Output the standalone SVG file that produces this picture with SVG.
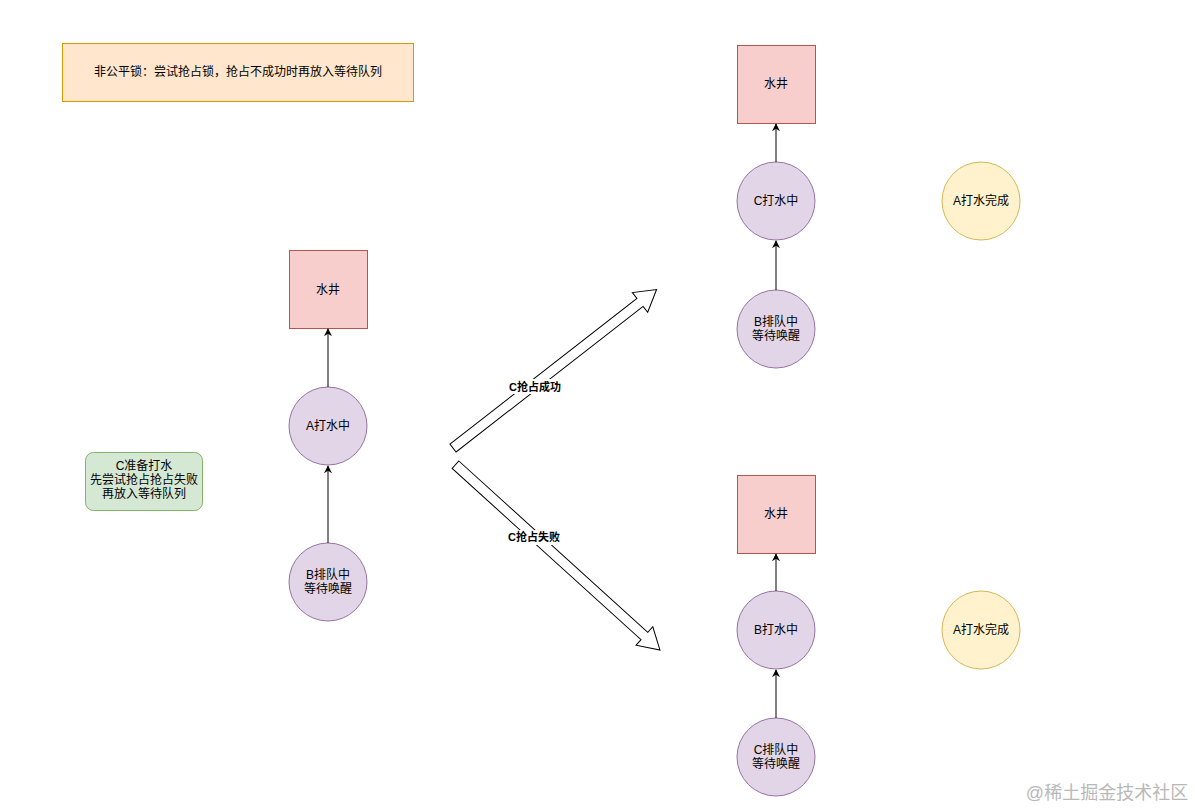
<svg xmlns="http://www.w3.org/2000/svg" width="1195" height="810" viewBox="0 0 1195 810">
<style>
text{font-family:"Liberation Sans","Noto Sans CJK SC",sans-serif;font-size:12px;fill:#000;text-anchor:middle;dominant-baseline:central}
.well{fill:#f8cecc;stroke:#b85450;stroke-width:1}
.p{fill:#e1d5e7;stroke:#9673a6;stroke-width:1}
.done{fill:#fff2cc;stroke:#d6b656;stroke-width:1}
.edge{stroke:#000;stroke-width:1;fill:none;marker-end:url(#ah)}
.blk{fill:#fff;stroke:#000;stroke-width:1}
.lbl{font-size:11px;font-weight:bold}
</style>
<defs>
<marker id="ah" viewBox="0 0 10 10" refX="9" refY="5" markerWidth="8" markerHeight="8" markerUnits="userSpaceOnUse" orient="auto">
<path d="M0,0 L10,5 L0,10 L3,5 Z" fill="#000"/>
</marker>
</defs>
<rect width="1195" height="810" fill="#fff"/>
<g id="title"><rect x="62.5" y="43.5" width="351" height="58" fill="#ffe6cc" stroke="#d79b00"/><text x="238" y="72">非公平锁：尝试抢占锁，抢占不成功时再放入等待队列</text></g>
<g id="c-prepare"><rect x="85.5" y="452.5" width="117" height="58" rx="8" fill="#d5e8d4" stroke="#82b366"/><text x="144" y="466">C准备打水</text><text x="144" y="480">先尝试抢占抢占失败</text><text x="144" y="494">再放入等待队列</text></g>
<g id="well-l"><rect class="well" x="289.5" y="250.5" width="78" height="78"/><text x="328" y="290">水井</text></g>
<g id="a-l"><circle class="p" cx="328" cy="426" r="39"/><text x="328" y="426">A打水中</text></g>
<g id="b-l"><circle class="p" cx="328" cy="582" r="39"/><text x="328" y="575">B排队中</text><text x="328" y="589">等待唤醒</text></g>
<g id="well-t"><rect class="well" x="737.5" y="45.5" width="78" height="78"/><text x="776" y="84">水井</text></g>
<g id="c-t"><circle class="p" cx="776" cy="201" r="39"/><text x="776" y="201">C打水中</text></g>
<g id="b-t"><circle class="p" cx="776" cy="329" r="39"/><text x="776" y="322">B排队中</text><text x="776" y="336">等待唤醒</text></g>
<g id="a-t"><circle class="done" cx="981" cy="201" r="39"/><text x="981" y="201">A打水完成</text></g>
<g id="well-b"><rect class="well" x="737.5" y="475.5" width="78" height="78"/><text x="776" y="514">水井</text></g>
<g id="b-b"><circle class="p" cx="776" cy="630" r="39"/><text x="776" y="630">B打水中</text></g>
<g id="c-b"><circle class="p" cx="776" cy="757" r="39"/><text x="776" y="750">C排队中</text><text x="776" y="764">等待唤醒</text></g>
<g id="a-b"><circle class="done" cx="981" cy="630" r="39"/><text x="981" y="630">A打水完成</text></g>
<g id="connectors">
<line class="edge" x1="328" y1="387" x2="328" y2="329"/>
<line class="edge" x1="328" y1="543" x2="328" y2="466"/>
<line class="edge" x1="776" y1="162" x2="776" y2="124"/>
<line class="edge" x1="776" y1="290" x2="776" y2="241"/>
<line class="edge" x1="776" y1="591" x2="776" y2="554"/>
<line class="edge" x1="776" y1="718" x2="776" y2="670"/>
<path class="blk" transform="translate(453,448) rotate(-37.9)" d="M0,-5 L237,-5 L237,-12.5 L258,0 L237,12.5 L237,5 L0,5 Z"/>
<path class="blk" transform="translate(455.5,464.7) rotate(42.2)" d="M0,-5 L255,-5 L255,-12.5 L276,0 L255,12.5 L255,5 L0,5 Z"/>
<rect x="508" y="379" width="54" height="15" fill="#fff"/>
<text class="lbl" x="535" y="387">C抢占成功</text>
<rect x="507" y="530" width="54" height="15" fill="#fff"/>
<text class="lbl" x="534" y="537">C抢占失败</text>
</g>
<text x="1107" y="793" style="font-size:18px;fill:#b8b8b8">@稀土掘金技术社区</text>
</svg>
